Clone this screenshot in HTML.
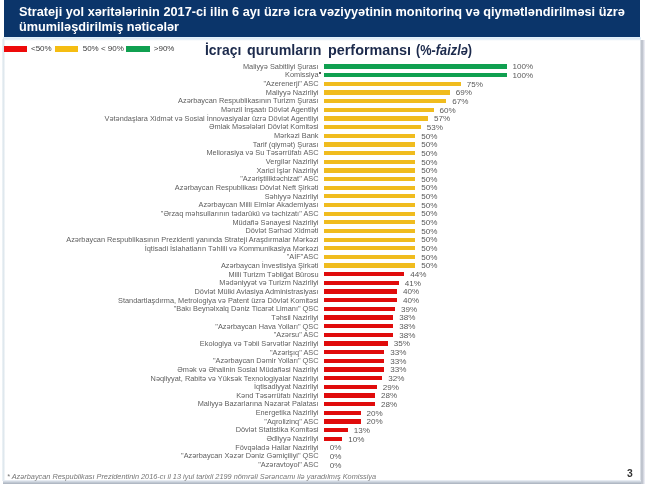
<!DOCTYPE html>
<html><head><meta charset="utf-8"><style>
html,body{margin:0;padding:0;}
body{width:645px;height:484px;overflow:hidden;background:#fff;position:relative;font-family:"Liberation Sans",sans-serif;}
.a{position:absolute;}
#hdr{position:absolute;left:4px;top:0;width:636px;height:37.4px;background:#0b356a;}
#hline{position:absolute;left:3px;top:37.4px;width:638px;height:4px;background:linear-gradient(180deg,#e4f2fc 0%,#dde9f3 50%,#f4f8fb 75%,rgba(255,255,255,0));}
#fl{position:absolute;left:2px;top:39px;width:3px;height:442px;background:linear-gradient(90deg,#f2f7fa,#dde6ec 45%,#f6f9fb);}
#fr{position:absolute;left:639.5px;top:40px;width:5px;height:444px;background:linear-gradient(90deg,#e8ecf1,#b4b9c4 38%,#cdd1da 62%,#f4f4fa);}
#fb{position:absolute;left:3px;top:480px;width:638px;height:4px;background:linear-gradient(180deg,#f0f4fa,#c8d0da 50%,#a8b0bc);}
.ht{position:absolute;left:19.4px;color:#fff;font-weight:bold;font-size:12.3px;line-height:15px;white-space:nowrap;transform-origin:0 0;}
.lg{position:absolute;top:46px;height:6px;}
.lt{position:absolute;top:43.7px;font-size:8px;line-height:10px;color:#3a3a3a;white-space:nowrap;}
.ct{position:absolute;top:40.6px;font-size:13.8px;line-height:20px;font-weight:bold;color:#1c2a4c;white-space:nowrap;transform-origin:0 0;}
.lb{position:absolute;right:326.5px;height:10px;line-height:10px;font-size:7.35px;color:#5e5e5e;white-space:nowrap;}
.bar{position:absolute;left:324.1px;height:4.3px;}
.pc{position:absolute;height:10px;line-height:10px;font-size:8.1px;color:#5a5a5a;white-space:nowrap;}
#ft{position:absolute;left:7px;top:472px;font-size:7.35px;line-height:10px;font-style:italic;color:#767676;white-space:nowrap;}
#pn{position:absolute;left:626.8px;top:465.5px;font-size:11.5px;line-height:14px;font-weight:bold;color:#333;transform:scaleX(0.9);transform-origin:0 0;}
</style></head><body><div id="wrap" style="position:absolute;left:0;top:0;width:645px;height:484px;will-change:transform;">
<div id="hdr"></div>
<div id="hline"></div>
<div id="fl"></div>
<div id="fr"></div>
<div id="fb"></div>
<div class="ht" id="h1" style="top:4.8px;transform:scaleX(1.0356)">Strateji yol xəritələrinin 2017-ci ilin 6 ayı üzrə icra vəziyyətinin monitorinq və qiymətləndirilməsi üzrə</div>
<div class="ht" id="h2" style="top:20.1px;transform:scaleX(1.031)">ümumiləşdirilmiş nəticələr</div>
<div class="lg" style="left:4px;width:23px;background:#ee0a0a"></div>
<div class="lt" style="left:31px">&lt;50%</div>
<div class="lg" style="left:55px;width:23px;background:#f5bd12"></div>
<div class="lt" style="left:82.7px">50% &lt; 90%</div>
<div class="lg" style="left:126px;width:24px;background:#10a050"></div>
<div class="lt" style="left:153.8px">&gt;90%</div>
<div class="ct" style="left:204.7px;transform:scaleX(1.008)">İcraçı</div>
<div class="ct" style="left:247px;transform:scaleX(1.032)">qurumların</div>
<div class="ct" style="left:328px;transform:scaleX(1.042)">performansı</div>
<div class="ct" style="left:416.1px;transform:scaleX(0.925)">(%-<i>faizlə</i>)</div>
<div class="lb" style="top:61.75px">Maliyyə Sabitliyi Şurası</div>
<div class="bar" style="top:64.30px;width:182.50px;background:#10a050"></div>
<div class="pc" style="top:62.25px;left:512.40px">100%</div>
<div class="lb" style="top:70.41px">Komissiya</div>
<div class="bar" style="top:72.96px;width:182.50px;background:#10a050"></div>
<div class="pc" style="top:70.91px;left:512.40px">100%</div>
<div class="lb" style="top:79.07px">&quot;Azerenerji&quot; ASC</div>
<div class="bar" style="top:81.62px;width:136.88px;background:#f0bc1e"></div>
<div class="pc" style="top:79.57px;left:466.78px">75%</div>
<div class="lb" style="top:87.73px">Maliyyə Nazirliyi</div>
<div class="bar" style="top:90.28px;width:125.92px;background:#f0bc1e"></div>
<div class="pc" style="top:88.23px;left:455.83px">69%</div>
<div class="lb" style="top:96.39px">Azərbaycan Respublikasının Turizm Şurası</div>
<div class="bar" style="top:98.94px;width:122.27px;background:#f0bc1e"></div>
<div class="pc" style="top:96.89px;left:452.18px">67%</div>
<div class="lb" style="top:105.05px">Mənzil İnşaatı Dövlət Agentliyi</div>
<div class="bar" style="top:107.60px;width:109.50px;background:#f0bc1e"></div>
<div class="pc" style="top:105.55px;left:439.40px">60%</div>
<div class="lb" style="top:113.71px">Vətəndaşlara Xidmət və Sosial İnnovasiyalar üzrə Dövlət Agentliyi</div>
<div class="bar" style="top:116.26px;width:104.02px;background:#f0bc1e"></div>
<div class="pc" style="top:114.21px;left:433.93px">57%</div>
<div class="lb" style="top:122.37px">Əmlak Məsələləri Dövlət Komitəsi</div>
<div class="bar" style="top:124.92px;width:96.72px;background:#f0bc1e"></div>
<div class="pc" style="top:122.87px;left:426.63px">53%</div>
<div class="lb" style="top:131.03px">Mərkəzi Bank</div>
<div class="bar" style="top:133.58px;width:91.25px;background:#f0bc1e"></div>
<div class="pc" style="top:131.53px;left:421.15px">50%</div>
<div class="lb" style="top:139.69px">Tarif (qiymət) Şurası</div>
<div class="bar" style="top:142.24px;width:91.25px;background:#f0bc1e"></div>
<div class="pc" style="top:140.19px;left:421.15px">50%</div>
<div class="lb" style="top:148.35px">Meliorasiya və Su Təsərrüfatı ASC</div>
<div class="bar" style="top:150.90px;width:91.25px;background:#f0bc1e"></div>
<div class="pc" style="top:148.85px;left:421.15px">50%</div>
<div class="lb" style="top:157.01px">Vergilər Nazirliyi</div>
<div class="bar" style="top:159.56px;width:91.25px;background:#f0bc1e"></div>
<div class="pc" style="top:157.51px;left:421.15px">50%</div>
<div class="lb" style="top:165.67px">Xarici İşlər Nazirliyi</div>
<div class="bar" style="top:168.22px;width:91.25px;background:#f0bc1e"></div>
<div class="pc" style="top:166.17px;left:421.15px">50%</div>
<div class="lb" style="top:174.33px">&quot;Azəriştiliktəchizat&quot; ASC</div>
<div class="bar" style="top:176.88px;width:91.25px;background:#f0bc1e"></div>
<div class="pc" style="top:174.83px;left:421.15px">50%</div>
<div class="lb" style="top:182.99px">Azərbaycan Respublikası Dövlət Neft Şirkəti</div>
<div class="bar" style="top:185.54px;width:91.25px;background:#f0bc1e"></div>
<div class="pc" style="top:183.49px;left:421.15px">50%</div>
<div class="lb" style="top:191.65px">Səhiyyə Nazirliyi</div>
<div class="bar" style="top:194.20px;width:91.25px;background:#f0bc1e"></div>
<div class="pc" style="top:192.15px;left:421.15px">50%</div>
<div class="lb" style="top:200.31px">Azərbaycan Milli Elmlər Akademiyası</div>
<div class="bar" style="top:202.86px;width:91.25px;background:#f0bc1e"></div>
<div class="pc" style="top:200.81px;left:421.15px">50%</div>
<div class="lb" style="top:208.97px">&quot;Ərzaq məhsullarının tədarükü və təchizatı&quot; ASC</div>
<div class="bar" style="top:211.52px;width:91.25px;background:#f0bc1e"></div>
<div class="pc" style="top:209.47px;left:421.15px">50%</div>
<div class="lb" style="top:217.63px">Müdafiə Sənayesi Nazirliyi</div>
<div class="bar" style="top:220.18px;width:91.25px;background:#f0bc1e"></div>
<div class="pc" style="top:218.13px;left:421.15px">50%</div>
<div class="lb" style="top:226.29px">Dövlət Sərhəd Xidməti</div>
<div class="bar" style="top:228.84px;width:91.25px;background:#f0bc1e"></div>
<div class="pc" style="top:226.79px;left:421.15px">50%</div>
<div class="lb" style="top:234.95px">Azərbaycan Respublikasının Prezidenti yanında Strateji Araşdırmalar Mərkəzi</div>
<div class="bar" style="top:237.50px;width:91.25px;background:#f0bc1e"></div>
<div class="pc" style="top:235.45px;left:421.15px">50%</div>
<div class="lb" style="top:243.61px">İqtisadi İslahatların Təhlili və Kommunikasiya Mərkəzi</div>
<div class="bar" style="top:246.16px;width:91.25px;background:#f0bc1e"></div>
<div class="pc" style="top:244.11px;left:421.15px">50%</div>
<div class="lb" style="top:252.27px">&quot;AİF&quot;ASC</div>
<div class="bar" style="top:254.82px;width:91.25px;background:#f0bc1e"></div>
<div class="pc" style="top:252.77px;left:421.15px">50%</div>
<div class="lb" style="top:260.93px">Azərbaycan İnvestisiya Şirkəti</div>
<div class="bar" style="top:263.48px;width:91.25px;background:#f0bc1e"></div>
<div class="pc" style="top:261.43px;left:421.15px">50%</div>
<div class="lb" style="top:269.59px">Milli Turizm Təbliğat Bürosu</div>
<div class="bar" style="top:272.14px;width:80.30px;background:#e00b0b"></div>
<div class="pc" style="top:270.09px;left:410.20px">44%</div>
<div class="lb" style="top:278.25px">Mədəniyyət və Turizm Nazirliyi</div>
<div class="bar" style="top:280.80px;width:74.83px;background:#e00b0b"></div>
<div class="pc" style="top:278.75px;left:404.73px">41%</div>
<div class="lb" style="top:286.91px">Dövlət Mülki Aviasiya Administrasiyası</div>
<div class="bar" style="top:289.46px;width:73.00px;background:#e00b0b"></div>
<div class="pc" style="top:287.41px;left:402.90px">40%</div>
<div class="lb" style="top:295.57px">Standartlaşdırma, Metrologiya və Patent üzrə Dövlət Komitəsi</div>
<div class="bar" style="top:298.12px;width:73.00px;background:#e00b0b"></div>
<div class="pc" style="top:296.07px;left:402.90px">40%</div>
<div class="lb" style="top:304.23px">&quot;Bakı Beynəlxalq Dəniz Ticarət Limanı&quot; QSC</div>
<div class="bar" style="top:306.78px;width:71.17px;background:#e00b0b"></div>
<div class="pc" style="top:304.73px;left:401.08px">39%</div>
<div class="lb" style="top:312.89px">Təhsil Nazirliyi</div>
<div class="bar" style="top:315.44px;width:69.35px;background:#e00b0b"></div>
<div class="pc" style="top:313.39px;left:399.25px">38%</div>
<div class="lb" style="top:321.55px">&quot;Azərbaycan Hava Yolları&quot; QSC</div>
<div class="bar" style="top:324.10px;width:69.35px;background:#e00b0b"></div>
<div class="pc" style="top:322.05px;left:399.25px">38%</div>
<div class="lb" style="top:330.21px">&quot;Azərsu&quot; ASC</div>
<div class="bar" style="top:332.76px;width:69.35px;background:#e00b0b"></div>
<div class="pc" style="top:330.71px;left:399.25px">38%</div>
<div class="lb" style="top:338.87px">Ekologiya və Təbii Sərvətlər Nazirliyi</div>
<div class="bar" style="top:341.42px;width:63.88px;background:#e00b0b"></div>
<div class="pc" style="top:339.37px;left:393.78px">35%</div>
<div class="lb" style="top:347.53px">&quot;Azərişıq&quot; ASC</div>
<div class="bar" style="top:350.08px;width:60.23px;background:#e00b0b"></div>
<div class="pc" style="top:348.03px;left:390.13px">33%</div>
<div class="lb" style="top:356.19px">&quot;Azərbaycan Dəmir Yolları&quot; QSC</div>
<div class="bar" style="top:358.74px;width:60.23px;background:#e00b0b"></div>
<div class="pc" style="top:356.69px;left:390.13px">33%</div>
<div class="lb" style="top:364.85px">Əmək və Əhalinin Sosial Müdafiəsi Nazirliyi</div>
<div class="bar" style="top:367.40px;width:60.23px;background:#e00b0b"></div>
<div class="pc" style="top:365.35px;left:390.13px">33%</div>
<div class="lb" style="top:373.51px">Nəqliyyat, Rabitə və Yüksək Texnologiyalar Nazirliyi</div>
<div class="bar" style="top:376.06px;width:58.40px;background:#e00b0b"></div>
<div class="pc" style="top:374.01px;left:388.30px">32%</div>
<div class="lb" style="top:382.17px">İqtisadiyyat Nazirliyi</div>
<div class="bar" style="top:384.72px;width:52.92px;background:#e00b0b"></div>
<div class="pc" style="top:382.67px;left:382.83px">29%</div>
<div class="lb" style="top:390.83px">Kənd Təsərrüfatı Nazirliyi</div>
<div class="bar" style="top:393.38px;width:51.10px;background:#e00b0b"></div>
<div class="pc" style="top:391.33px;left:381.00px">28%</div>
<div class="lb" style="top:399.49px">Maliyyə Bazarlarına Nəzarət Palatası</div>
<div class="bar" style="top:402.04px;width:51.10px;background:#e00b0b"></div>
<div class="pc" style="top:399.99px;left:381.00px">28%</div>
<div class="lb" style="top:408.15px">Energetika Nazirliyi</div>
<div class="bar" style="top:410.70px;width:36.50px;background:#e00b0b"></div>
<div class="pc" style="top:408.65px;left:366.40px">20%</div>
<div class="lb" style="top:416.81px">&quot;Aqrolizinq&quot; ASC</div>
<div class="bar" style="top:419.36px;width:36.50px;background:#e00b0b"></div>
<div class="pc" style="top:417.31px;left:366.40px">20%</div>
<div class="lb" style="top:425.47px">Dövlət Statistika Komitəsi</div>
<div class="bar" style="top:428.02px;width:23.72px;background:#e00b0b"></div>
<div class="pc" style="top:425.97px;left:353.63px">13%</div>
<div class="lb" style="top:434.13px">Ədliyyə Nazirliyi</div>
<div class="bar" style="top:436.68px;width:18.25px;background:#e00b0b"></div>
<div class="pc" style="top:434.63px;left:348.15px">10%</div>
<div class="lb" style="top:442.79px">Fövqəladə Hallar Nazirliyi</div>
<div class="pc" style="top:443.29px;left:329.70px">0%</div>
<div class="lb" style="top:451.45px">&quot;Azərbaycan Xəzər Dəniz Gəmiçiliyi&quot; QSC</div>
<div class="pc" style="top:451.95px;left:329.70px">0%</div>
<div class="lb" style="top:460.11px">&quot;Azəravtoyol&quot; ASC</div>
<div class="pc" style="top:460.61px;left:329.70px">0%</div>
<div id="ft">* Azərbaycan Respublikası Prezidentinin 2016-cı il 13 iyul tarixli 2199 nömrəli Sərəncamı ilə yaradılmış Komissiya</div>
<div id="pn">3</div>
<div style="position:absolute;left:319px;top:71.8px;width:2.2px;height:2.2px;border-radius:50%;background:#222"></div>
</div></body></html>
